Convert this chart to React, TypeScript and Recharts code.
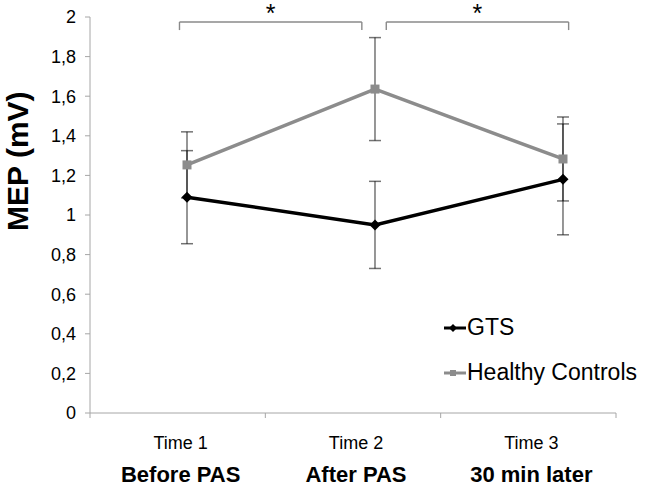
import React from "react";
import {
  LineChart, Line, XAxis, YAxis, ErrorBar, ReferenceLine, Legend, Label,
} from "recharts";

const timepoints = ["Time 1", "Time 2", "Time 3"];
const phases = ["Before PAS", "After PAS", "30 min later"];
const gtsMean = [1.09, 0.95, 1.18];
const gtsErr = [0.235, 0.22, 0.28];
const hcMean = [1.253, 1.636, 1.283];
const hcErr = [0.167, 0.26, 0.212];
const yTicks = [0, 0.2, 0.4, 0.6, 0.8, 1, 1.2, 1.4, 1.6, 1.8, 2];
// significance brackets, in time-point units
const brackets = [
  { from: 0.96, to: 1.93, mark: "*" },
  { from: 2.06, to: 3.03, mark: "*" },
];

const FONT = "'Liberation Sans', Arial, sans-serif";
const GTS_COLOR = "#000000";
const HC_COLOR = "#8c8c8c";
const ERR_COLOR = "rgba(0,0,0,0.55)";
const AXIS_COLOR = "#a6a6a6";
const BRACKET_COLOR = "#8a8a8a";

const data = timepoints.map((t, i) => ({
  t: i + 1,
  gts: gtsMean[i],
  gtsErr: gtsErr[i],
  hc: hcMean[i],
  hcErr: hcErr[i],
}));

// label axis: 0..3 with group boundaries at integers, names at the halves
const labelTicks = [0, 0.5, 1, 1.5, 2, 2.5, 3];

// eslint-disable-next-line @typescript-eslint/no-explicit-any
function XTick({ x, y, payload }: any) {
  const v = payload.value as number;
  if (Number.isInteger(v)) {
    return <line x1={x} x2={x} y1={y} y2={y + 5} stroke={AXIS_COLOR} strokeWidth={1} />;
  }
  const i = Math.floor(v);
  return (
    <g>
      <text x={x + 3} y={y + 36} textAnchor="middle" fontFamily={FONT} fontSize={18} fill="#000">
        {timepoints[i]}
      </text>
      <text x={x + 3} y={y + 69} textAnchor="middle" fontFamily={FONT} fontSize={22} fontWeight="bold" fill="#000">
        {phases[i]}
      </text>
    </g>
  );
}

// eslint-disable-next-line @typescript-eslint/no-explicit-any
function YLabel({ viewBox }: any) {
  const cx = viewBox.x - 12;
  const cy = viewBox.y + viewBox.height * 0.364;
  return (
    <text
      x={cx}
      y={cy}
      transform={`rotate(-90, ${cx}, ${cy})`}
      textAnchor="middle"
      dominantBaseline="central"
      fontFamily={FONT}
      fontSize={30}
      fontWeight="bold"
      fill="#000"
    >
      MEP (mV)
    </text>
  );
}

// eslint-disable-next-line @typescript-eslint/no-explicit-any
function Diamond({ cx, cy }: any) {
  if (cx == null || cy == null) return null;
  const r = 5.5;
  return <polygon points={`${cx},${cy - r} ${cx + r},${cy} ${cx},${cy + r} ${cx - r},${cy}`} fill={GTS_COLOR} />;
}

// eslint-disable-next-line @typescript-eslint/no-explicit-any
function Square({ cx, cy }: any) {
  if (cx == null || cy == null) return null;
  return <rect x={cx - 4.5} y={cy - 4.5} width={9} height={9} fill={HC_COLOR} />;
}

const legendItems = [
  { name: "GTS", color: GTS_COLOR, shape: "diamond" },
  { name: "Healthy Controls", color: HC_COLOR, shape: "square" },
];

function LegendBox() {
  return (
    <div style={{ fontFamily: FONT, fontSize: 23, color: "#000" }}>
      {legendItems.map((it) => (
        <div key={it.name} style={{ display: "flex", alignItems: "center", height: 45 }}>
          <svg width={22} height={12} style={{ marginRight: 1 }}>
            <line x1={0} x2={22} y1={6} y2={6} stroke={it.color} strokeWidth={3} />
            {it.shape === "diamond" ? (
              <polygon points="9,2 13,6 9,10 5,6" fill={it.color} />
            ) : (
              <rect x={6} y={3} width={6} height={6} fill={it.color} />
            )}
          </svg>
          <span>{it.name}</span>
        </div>
      ))}
    </div>
  );
}

export default function App() {
  return (
    <div style={{ position: "absolute", left: 0, top: 0, width: 664, height: 489, background: "#fff" }}>
      <LineChart width={664} height={489} data={data} margin={{ top: 17, right: 48, bottom: 10, left: 30 }}>
        <XAxis
          xAxisId="labels"
          type="number"
          dataKey="t"
          domain={[0, 3]}
          ticks={labelTicks}
          interval={0}
          height={66}
          tickSize={0}
          tickMargin={0}
          tickLine={false}
          stroke={AXIS_COLOR}
          tick={<XTick />}
        />
        <XAxis xAxisId="pts" type="number" dataKey="t" domain={[0.484, 3.282]} hide />
        <YAxis
          type="number"
          domain={[0, 2]}
          ticks={yTicks}
          interval={0}
          width={60}
          tickSize={5}
          tickMargin={9}
          stroke={AXIS_COLOR}
          tick={{ fill: "#000", fontSize: 18, fontFamily: FONT }}
          tickFormatter={(v: number) => String(v).replace(".", ",")}
        >
          <Label content={<YLabel />} />
        </YAxis>

        {brackets.flatMap((b, i) => [
          <ReferenceLine
            key={`bl${i}`}
            xAxisId="pts"
            ifOverflow="visible"
            segment={[{ x: b.from, y: 1.934 }, { x: b.from, y: 1.975 }]}
            stroke={BRACKET_COLOR}
            strokeWidth={1.4}
          />,
          <ReferenceLine
            key={`bh${i}`}
            xAxisId="pts"
            ifOverflow="visible"
            segment={[{ x: b.from, y: 1.975 }, { x: b.to, y: 1.975 }]}
            stroke={BRACKET_COLOR}
            strokeWidth={1.4}
            label={{ value: b.mark, position: "top", offset: 0, fontSize: 25, fontFamily: FONT, fill: "#000" }}
          />,
          <ReferenceLine
            key={`br${i}`}
            xAxisId="pts"
            ifOverflow="visible"
            segment={[{ x: b.to, y: 1.934 }, { x: b.to, y: 1.975 }]}
            stroke={BRACKET_COLOR}
            strokeWidth={1.4}
          />,
        ])}

        <Line
          xAxisId="pts"
          dataKey="gts"
          name="GTS"
          stroke={GTS_COLOR}
          strokeWidth={3.5}
          dot={<Diamond />}
          activeDot={false}
          isAnimationActive={false}
        >
          <ErrorBar dataKey="gtsErr" width={6} stroke={ERR_COLOR} strokeWidth={1.5} isAnimationActive={false} />
        </Line>
        <Line
          xAxisId="pts"
          dataKey="hc"
          name="Healthy Controls"
          stroke={HC_COLOR}
          strokeWidth={3.5}
          dot={<Square />}
          activeDot={false}
          isAnimationActive={false}
        >
          <ErrorBar dataKey="hcErr" width={6} stroke={ERR_COLOR} strokeWidth={1.5} isAnimationActive={false} />
        </Line>

        <Legend
          layout="vertical"
          align="center"
          verticalAlign="middle"
          content={<LegendBox />}
          wrapperStyle={{ left: 444, top: 305, width: 220 }}
        />
      </LineChart>
    </div>
  );
}
